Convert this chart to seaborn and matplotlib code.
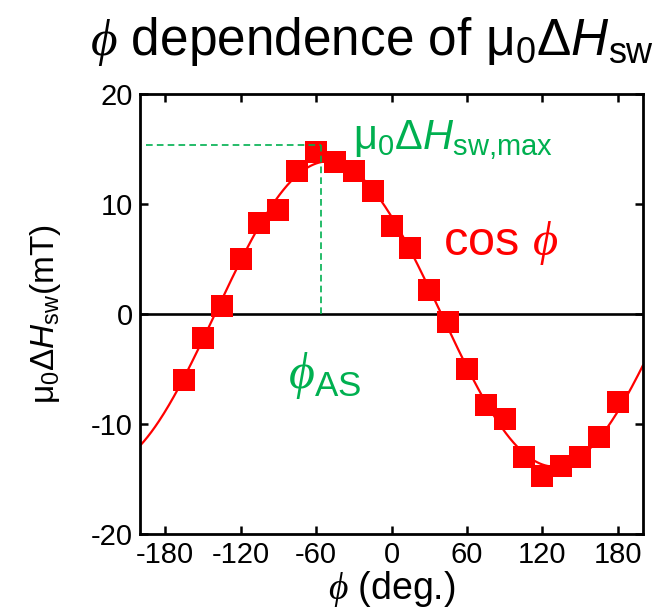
import numpy as np
import pandas as pd
import matplotlib
matplotlib.use("Agg")
import matplotlib.pyplot as plt
import seaborn as sns

# Measured switching-field asymmetry versus in-plane angle
phi_deg = [-165, -150, -135, -120, -105, -90, -75, -60, -45, -30, -15, 0,
           15, 30, 45, 60, 75, 90, 105, 120, 135, 150, 165, 180]
dh_sw = [-6.0, -2.2, 0.7, 5.0, 8.3, 9.5, 13.0, 14.7, 13.8, 13.0, 11.2, 8.0,
         6.0, 2.2, -0.7, -5.0, -8.3, -9.5, -13.0, -14.7, -13.8, -13.0, -11.2, -8.0]

# Annotated maximum and its angle
hsw_max = 15.4
phi_as = -56

x_ticks = [-180, -120, -60, 0, 60, 120, 180]
y_ticks = [-20, -10, 0, 10, 20]

RED = "#FF0000"
GREEN = "#00B050"

sns.set_theme(style="ticks")
plt.rcParams.update({
    "font.family": ["Liberation Sans", "DejaVu Sans"],
    "mathtext.fontset": "custom",
    "mathtext.rm": "Liberation Sans",
    "mathtext.it": "Liberation Sans:italic",
    "mathtext.bf": "Liberation Sans:bold",
    "mathtext.sf": "Liberation Serif:italic",
    "axes.linewidth": 2.0,
    "text.color": "black",
    "axes.labelcolor": "black",
    "xtick.color": "black",
    "ytick.color": "black",
})

df = pd.DataFrame({"phi": phi_deg, "dH": dh_sw})

# Least-squares cosine fit: dH = a cos(phi) + b sin(phi)
rad = np.deg2rad(df["phi"].to_numpy())
design = np.column_stack([np.cos(rad), np.sin(rad)])
coef, *_ = np.linalg.lstsq(design, df["dH"].to_numpy(), rcond=None)
grid = np.linspace(-200, 200, 401)
grad = np.deg2rad(grid)
fit = pd.DataFrame({"phi": grid,
                    "dH": coef[0] * np.cos(grad) + coef[1] * np.sin(grad)})

fig = plt.figure(figsize=(6.57, 6.14), dpi=100)
ax = fig.add_axes([140 / 657, 1 - 534 / 614, 503 / 657, 440 / 614])

ax.axhline(0, color="black", lw=1.9, zorder=1)
sns.lineplot(data=fit, x="phi", y="dH", ax=ax, color=RED, lw=1.6, zorder=2)
sns.scatterplot(data=df, x="phi", y="dH", ax=ax, color=RED, marker="s",
                s=245, linewidth=0, zorder=3)

# Guides marking the maximum
ax.plot([-195, phi_as], [hsw_max, hsw_max], color=GREEN, lw=1.2,
        ls=(0, (4, 2.5)), zorder=4)
ax.plot([phi_as, phi_as], [0, hsw_max], color=GREEN, lw=1.2,
        ls=(0, (4, 2.5)), zorder=4)

PHI = r"\mathsf{\phi}"
ax.text(-31, 15.0, r"$\mathrm{\mu}_0\Delta H_\mathrm{sw{,}max}$", color=GREEN,
        fontsize=30, ha="left", va="baseline", zorder=5)
ax.text(41, 5.4, r"cos $" + PHI + "$", color=RED, fontsize=35,
        ha="left", va="baseline", zorder=5)
ax.text(-82, -6.7, r"$" + PHI + r"_\mathrm{AS}$", color=GREEN, fontsize=36,
        ha="left", va="baseline", zorder=5)

ax.set_xlim(-200, 200)
ax.set_ylim(-20, 20)
ax.set_xticks(x_ticks)
ax.set_yticks(y_ticks)
ax.set_xticklabels([str(t) for t in x_ticks])
ax.set_yticklabels([str(t) for t in y_ticks])
ax.tick_params(direction="in", length=6, width=1.8, top=True, right=True,
               labelsize=21, pad=5, colors="black")
for sp in ax.spines.values():
    sp.set_visible(True)
    sp.set_linewidth(2.0)
    sp.set_color("black")

ax.set_xlabel(r"$" + PHI + r"$ (deg.)", fontsize=27, labelpad=0)
ax.set_ylabel(r"$\mathrm{\mu}_0\Delta H_\mathrm{sw}$(mT)", fontsize=24,
              labelpad=20)

fig.text(372 / 657, 1 - 55 / 614,
         r"$" + PHI + r"$ dependence of $\mathrm{\mu}_0\Delta H_\mathrm{sw}$",
         fontsize=37, ha="center", va="baseline")

fig.savefig("out.png", dpi=100, facecolor="white")
